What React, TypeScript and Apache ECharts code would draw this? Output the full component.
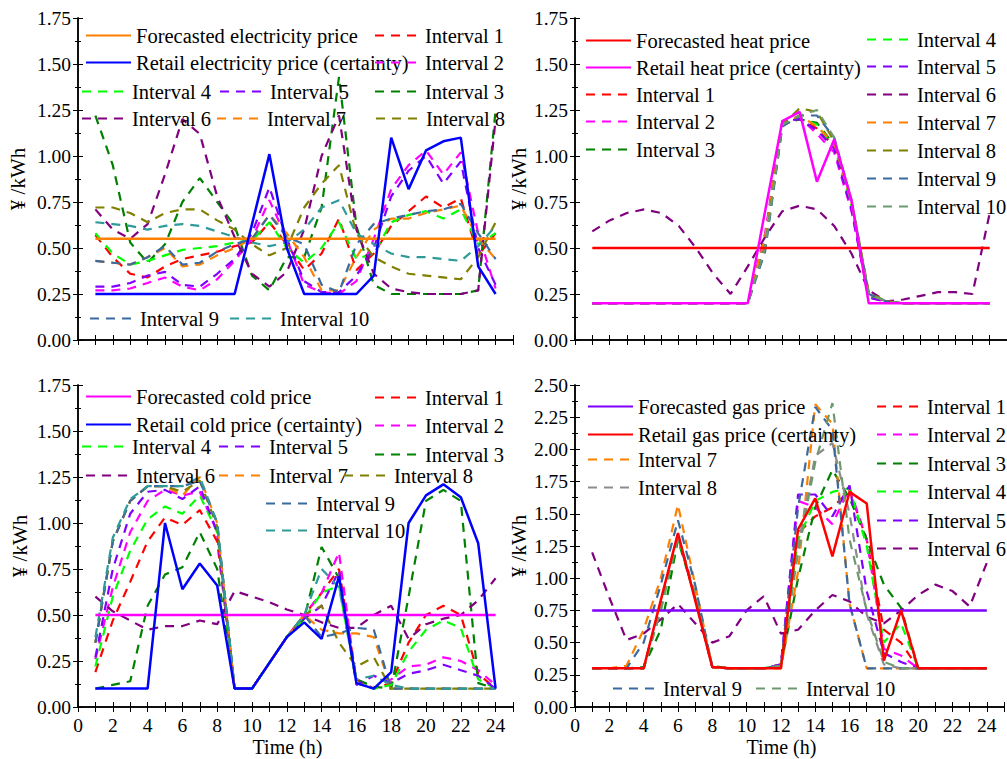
import React, { useEffect, useRef } from "react";
import * as echarts from "echarts";

const hours = Array.from({ length: 24 }, (_, i) => i + 1);
const FONT = "Liberation Serif";

// ---------- Electricity ----------
const elecForecast = [0.55,0.55,0.55,0.55,0.55,0.55,0.55,0.55,0.55,0.55,0.55,0.55,0.55,0.55,0.55,0.55,0.55,0.55,0.55,0.55,0.55,0.55,0.55,0.55];
const elecRetail = [0.25,0.25,0.25,0.25,0.25,0.25,0.25,0.25,0.25,0.63,1.01,0.5,0.25,0.25,0.25,0.25,0.35,1.10,0.82,1.03,1.08,1.10,0.40,0.25];
const elecI1 = [0.57,0.45,0.36,0.34,0.40,0.44,0.46,0.48,0.51,0.53,0.64,0.52,0.38,0.47,0.66,0.38,0.47,0.62,0.70,0.78,0.72,0.77,0.46,0.58];
const elecI2 = [0.27,0.27,0.28,0.31,0.34,0.29,0.27,0.33,0.43,0.55,0.76,0.55,0.30,0.26,0.25,0.32,0.55,0.82,0.95,1.03,0.90,1.02,0.58,0.28];
const elecI3 = [1.22,0.95,0.53,0.42,0.52,0.75,0.88,0.75,0.62,0.35,0.27,0.45,0.45,0.72,1.43,0.62,0.30,0.25,0.25,0.25,0.25,0.25,0.27,1.25];
const elecI4 = [0.58,0.47,0.41,0.43,0.46,0.49,0.50,0.51,0.53,0.54,0.64,0.50,0.42,0.50,0.64,0.44,0.47,0.64,0.68,0.70,0.66,0.71,0.52,0.58];
const elecI5 = [0.29,0.29,0.31,0.35,0.37,0.30,0.29,0.36,0.44,0.58,0.83,0.55,0.32,0.26,0.26,0.35,0.50,0.78,0.92,1.00,0.85,0.97,0.50,0.30];
const elecI6 = [0.71,0.60,0.55,0.63,0.90,1.20,1.12,0.78,0.56,0.36,0.29,0.37,0.60,1.00,1.22,0.60,0.36,0.28,0.26,0.25,0.25,0.25,0.27,1.20];
const elecI7 = [0.43,0.42,0.41,0.45,0.50,0.40,0.41,0.46,0.50,0.55,0.68,0.58,0.45,0.27,0.27,0.45,0.60,0.66,0.66,0.69,0.71,0.73,0.55,0.44];
const elecI8 = [0.72,0.72,0.69,0.64,0.69,0.71,0.71,0.65,0.60,0.52,0.46,0.50,0.72,0.85,0.95,0.58,0.45,0.40,0.36,0.35,0.34,0.33,0.45,0.64];
const elecI9 = [0.43,0.42,0.41,0.45,0.51,0.41,0.42,0.48,0.52,0.55,0.68,0.56,0.52,0.30,0.26,0.52,0.63,0.66,0.68,0.70,0.71,0.74,0.58,0.44];
const elecI10 = [0.64,0.63,0.62,0.60,0.62,0.63,0.62,0.59,0.56,0.53,0.51,0.53,0.60,0.72,0.76,0.58,0.52,0.47,0.45,0.45,0.44,0.43,0.51,0.62];

// ---------- Heat ----------
const heatForecast = [0.5,0.5,0.5,0.5,0.5,0.5,0.5,0.5,0.5,0.5,0.5,0.5,0.5,0.5,0.5,0.5,0.5,0.5,0.5,0.5,0.5,0.5,0.5,0.5];
const heatRetail = [0.2,0.2,0.2,0.2,0.2,0.2,0.2,0.2,0.2,0.2,0.70,1.19,1.24,0.86,1.09,0.76,0.2,0.2,0.2,0.2,0.2,0.2,0.2,0.2];
const heatI1 = [0.2,0.2,0.2,0.2,0.2,0.2,0.2,0.2,0.2,0.2,0.55,1.18,1.20,1.15,1.05,0.72,0.24,0.21,0.2,0.2,0.2,0.2,0.2,0.2];
const heatI2 = [0.2,0.2,0.2,0.2,0.2,0.2,0.2,0.2,0.2,0.2,0.58,1.18,1.21,1.12,1.02,0.70,0.23,0.21,0.2,0.2,0.2,0.2,0.2,0.2];
const heatI3 = [0.2,0.2,0.2,0.2,0.2,0.2,0.2,0.2,0.2,0.2,0.52,1.17,1.20,1.18,1.06,0.74,0.25,0.21,0.2,0.2,0.2,0.2,0.2,0.2];
const heatI4 = [0.2,0.2,0.2,0.2,0.2,0.2,0.2,0.2,0.2,0.2,0.54,1.18,1.21,1.17,1.05,0.73,0.24,0.21,0.2,0.2,0.2,0.2,0.2,0.2];
const heatI5 = [0.2,0.2,0.2,0.2,0.2,0.2,0.2,0.2,0.2,0.2,0.55,1.19,1.20,1.14,1.04,0.71,0.23,0.21,0.2,0.2,0.2,0.2,0.2,0.2];
const heatI6 = [0.59,0.65,0.69,0.71,0.69,0.62,0.50,0.36,0.25,0.40,0.56,0.70,0.73,0.71,0.62,0.47,0.27,0.21,0.22,0.24,0.26,0.26,0.25,0.69];
const heatI7 = [0.2,0.2,0.2,0.2,0.2,0.2,0.2,0.2,0.2,0.2,0.56,1.18,1.22,1.16,1.07,0.75,0.25,0.21,0.2,0.2,0.2,0.2,0.2,0.2];
const heatI8 = [0.2,0.2,0.2,0.2,0.2,0.2,0.2,0.2,0.2,0.2,0.50,1.17,1.26,1.24,1.08,0.76,0.26,0.21,0.2,0.2,0.2,0.2,0.2,0.2];
const heatI9 = [0.2,0.2,0.2,0.2,0.2,0.2,0.2,0.2,0.2,0.2,0.48,1.16,1.22,1.22,1.10,0.76,0.25,0.21,0.2,0.2,0.2,0.2,0.2,0.2];
const heatI10 = [0.2,0.2,0.2,0.2,0.2,0.2,0.2,0.2,0.2,0.2,0.50,1.17,1.22,1.25,1.10,0.74,0.25,0.21,0.2,0.2,0.2,0.2,0.2,0.2];

// ---------- Cold ----------
const coldForecast = [0.5,0.5,0.5,0.5,0.5,0.5,0.5,0.5,0.5,0.5,0.5,0.5,0.5,0.5,0.5,0.5,0.5,0.5,0.5,0.5,0.5,0.5,0.5,0.5];
const coldRetail = [0.1,0.1,0.1,0.1,1.0,0.64,0.78,0.66,0.1,0.1,0.24,0.38,0.46,0.37,0.71,0.13,0.1,0.19,1.0,1.15,1.21,1.14,0.89,0.1];
const coldI1 = [0.19,0.47,0.68,0.90,1.03,0.99,1.07,0.90,0.1,0.1,0.24,0.38,0.50,0.62,0.75,0.15,0.1,0.13,0.35,0.50,0.55,0.50,0.18,0.1];
const coldI2 = [0.26,0.65,0.95,1.12,1.18,1.15,1.17,0.95,0.1,0.1,0.24,0.38,0.50,0.62,0.84,0.13,0.1,0.15,0.22,0.23,0.27,0.25,0.20,0.12];
const coldI3 = [0.1,0.12,0.14,0.55,0.72,0.76,0.95,0.75,0.1,0.1,0.24,0.38,0.48,0.87,0.70,0.15,0.11,0.1,0.60,1.12,1.18,1.12,0.13,0.1];
const coldI4 = [0.22,0.60,0.85,1.02,1.09,1.05,1.15,0.95,0.1,0.1,0.24,0.38,0.48,0.62,0.66,0.13,0.1,0.12,0.30,0.42,0.47,0.43,0.15,0.1];
const coldI5 = [0.27,0.75,1.05,1.17,1.18,1.13,1.20,0.95,0.1,0.1,0.24,0.38,0.48,0.55,0.74,0.12,0.17,0.13,0.18,0.20,0.23,0.20,0.17,0.1];
const coldI6 = [0.60,0.52,0.47,0.42,0.44,0.44,0.47,0.45,0.63,0.60,0.57,0.53,0.50,0.46,0.43,0.43,0.50,0.55,0.37,0.45,0.48,0.50,0.58,0.70];
const coldI7 = [0.35,0.90,1.12,1.20,1.20,1.15,1.25,1.0,0.1,0.1,0.24,0.38,0.50,0.42,0.40,0.40,0.38,0.1,0.1,0.1,0.1,0.1,0.1,0.1];
const coldI8 = [0.35,0.90,1.12,1.20,1.20,1.17,1.23,0.98,0.1,0.1,0.24,0.38,0.50,0.55,0.35,0.22,0.27,0.1,0.1,0.1,0.1,0.1,0.1,0.1];
const coldI9 = [0.35,0.90,1.12,1.20,1.20,1.20,1.23,1.0,0.1,0.1,0.24,0.38,0.50,0.38,0.40,0.43,0.42,0.1,0.1,0.1,0.1,0.1,0.1,0.1];
const coldI10 = [0.38,0.92,1.13,1.20,1.20,1.20,1.25,1.0,0.1,0.1,0.24,0.38,0.50,0.75,0.65,0.15,0.17,0.12,0.1,0.1,0.1,0.1,0.1,0.1];

// ---------- Gas ----------
const gasForecast = [0.75,0.75,0.75,0.75,0.75,0.75,0.75,0.75,0.75,0.75,0.75,0.75,0.75,0.75,0.75,0.75,0.75,0.75,0.75,0.75,0.75,0.75,0.75,0.75];
const gasRetail = [0.3,0.3,0.3,0.3,0.83,1.35,0.83,0.31,0.3,0.3,0.3,0.3,1.38,1.62,1.17,1.67,1.58,0.36,0.75,0.3,0.3,0.3,0.3,0.3];
const gasI1 = [0.3,0.3,0.3,0.3,0.80,1.33,0.85,0.31,0.3,0.3,0.3,0.33,1.35,1.48,1.55,1.68,1.30,0.60,0.50,0.3,0.3,0.3,0.3,0.3];
const gasI2 = [0.3,0.3,0.3,0.3,0.78,1.33,0.85,0.31,0.3,0.3,0.3,0.33,1.60,1.55,1.42,1.70,1.30,0.45,0.40,0.3,0.3,0.3,0.3,0.3];
const gasI3 = [0.3,0.3,0.3,0.31,0.60,1.30,0.85,0.32,0.3,0.3,0.3,0.32,1.00,1.55,1.84,1.62,1.30,0.95,0.77,0.3,0.3,0.3,0.3,0.3];
const gasI4 = [0.3,0.3,0.3,0.3,0.75,1.32,0.85,0.31,0.3,0.3,0.3,0.33,1.30,1.60,1.67,1.70,1.25,0.50,0.65,0.3,0.3,0.3,0.3,0.3];
const gasI5 = [0.3,0.3,0.3,0.3,0.80,1.33,0.85,0.31,0.3,0.3,0.3,0.33,1.65,1.65,1.48,1.72,0.90,0.42,0.35,0.3,0.3,0.3,0.3,0.3];
const gasI6 = [1.20,0.85,0.52,0.57,0.68,0.80,0.65,0.50,0.55,0.75,0.86,0.57,0.60,0.75,0.87,0.82,0.70,0.65,0.75,0.87,0.95,0.90,0.78,1.12];
const gasI7 = [0.3,0.3,0.32,0.60,1.00,1.57,0.95,0.31,0.3,0.3,0.3,0.3,1.05,2.35,2.20,0.80,0.3,0.3,0.3,0.3,0.3,0.3,0.3,0.3];
const gasI8 = [0.3,0.3,0.3,0.3,0.80,1.33,0.88,0.31,0.3,0.3,0.3,0.32,1.25,1.95,2.05,1.50,0.72,0.33,0.3,0.3,0.3,0.3,0.3,0.3];
const gasI9 = [0.3,0.3,0.3,0.50,0.95,1.45,0.95,0.31,0.3,0.3,0.3,0.32,1.55,2.33,2.15,0.80,0.3,0.3,0.3,0.3,0.3,0.3,0.3,0.3];
const gasI10 = [0.3,0.3,0.3,0.3,0.75,1.33,0.87,0.31,0.3,0.3,0.3,0.32,1.20,1.90,2.36,1.30,0.75,0.35,0.3,0.3,0.3,0.3,0.3,0.3];

const intervalLabels = ["Interval 1","Interval 2","Interval 3","Interval 4","Interval 5","Interval 6","Interval 7","Interval 8","Interval 9","Interval 10"];
const yAxisTitle = "¥ /kWh";
const xAxisTitle = "Time (h)";

type Panel = {
  key: string;
  forecastName: string;
  retailName: string;
  forecast: number[];
  retail: number[];
  forecastColor: string;
  retailColor: string;
  intervals: number[][];
  intervalColors: string[];
  yMax: number;
  nameGap: number;
  showX: boolean;
};

const C = {
  red: "#FF0000", mag: "#FF00FF", dkg: "#008000", grn: "#00FF00", vio: "#8000FF",
  pur: "#800080", org: "#FF8000", olv: "#808000", stl: "#3A6B9E", teal: "#2E9A9A",
  gry: "#8C8C8C", ggr: "#6E9A6E", blue: "#0000FF",
};

const panels: Panel[] = [
  { key: "e", forecastName: "Forecasted electricity price", retailName: "Retail electricity price (certainty)",
    forecast: elecForecast, retail: elecRetail, forecastColor: C.org, retailColor: C.blue,
    intervals: [elecI1, elecI2, elecI3, elecI4, elecI5, elecI6, elecI7, elecI8, elecI9, elecI10],
    intervalColors: [C.red, C.mag, C.dkg, C.grn, C.vio, C.pur, C.org, C.olv, C.stl, C.teal], yMax: 1.75, nameGap: 50, showX: false },
  { key: "h", forecastName: "Forecasted heat price", retailName: "Retail heat price (certainty)",
    forecast: heatForecast, retail: heatRetail, forecastColor: C.red, retailColor: C.mag,
    intervals: [heatI1, heatI2, heatI3, heatI4, heatI5, heatI6, heatI7, heatI8, heatI9, heatI10],
    intervalColors: [C.red, C.mag, C.dkg, C.grn, C.vio, C.pur, C.org, C.olv, C.stl, C.ggr], yMax: 1.75, nameGap: 42, showX: false },
  { key: "c", forecastName: "Forecasted cold price", retailName: "Retail cold price (certainty)",
    forecast: coldForecast, retail: coldRetail, forecastColor: C.mag, retailColor: C.blue,
    intervals: [coldI1, coldI2, coldI3, coldI4, coldI5, coldI6, coldI7, coldI8, coldI9, coldI10],
    intervalColors: [C.red, C.mag, C.dkg, C.grn, C.vio, C.pur, C.org, C.olv, C.stl, C.teal], yMax: 1.75, nameGap: 48, showX: true },
  { key: "g", forecastName: "Forecasted gas price", retailName: "Retail gas price (certainty)",
    forecast: gasForecast, retail: gasRetail, forecastColor: C.vio, retailColor: C.red,
    intervals: [gasI1, gasI2, gasI3, gasI4, gasI5, gasI6, gasI7, gasI8, gasI9, gasI10],
    intervalColors: [C.red, C.mag, C.dkg, C.grn, C.vio, C.pur, C.org, C.gry, C.stl, C.ggr], yMax: 2.5, nameGap: 42, showX: true },
];

const grids = [
  { left: 78, top: 18, width: 435, height: 322 },
  { left: 575, top: 18, width: 435, height: 322 },
  { left: 78, top: 385, width: 435, height: 322 },
  { left: 575, top: 385, width: 435, height: 322 },
];

// legend placements: [panelKey, label, iconLeft, centerY]
const legendPlaces: [string, string, number, number][] = [
  ["e", "F", 85, 37], ["e", "R", 85, 64], ["e", "Interval 1", 374, 37], ["e", "Interval 2", 374, 64],
  ["e", "Interval 4", 81, 93], ["e", "Interval 5", 219, 93], ["e", "Interval 3", 374, 93],
  ["e", "Interval 6", 81, 120], ["e", "Interval 7", 216, 120], ["e", "Interval 8", 375, 120],
  ["e", "Interval 9", 89, 320], ["e", "Interval 10", 229, 320],
  ["h", "F", 585, 42], ["h", "R", 585, 69], ["h", "Interval 1", 585, 96], ["h", "Interval 2", 585, 123], ["h", "Interval 3", 585, 151],
  ["h", "Interval 4", 866, 41], ["h", "Interval 5", 866, 68], ["h", "Interval 6", 866, 96], ["h", "Interval 7", 866, 124],
  ["h", "Interval 8", 866, 152], ["h", "Interval 9", 866, 180], ["h", "Interval 10", 866, 208],
  ["c", "F", 85, 398], ["c", "R", 85, 426], ["c", "Interval 1", 374, 399], ["c", "Interval 2", 374, 427], ["c", "Interval 3", 374, 456],
  ["c", "Interval 4", 81, 448], ["c", "Interval 5", 218, 448], ["c", "Interval 6", 85, 477], ["c", "Interval 7", 218, 477],
  ["c", "Interval 8", 343, 477], ["c", "Interval 9", 265, 505], ["c", "Interval 10", 265, 532],
  ["g", "F", 587, 408], ["g", "R", 587, 436], ["g", "Interval 7", 587, 461], ["g", "Interval 8", 587, 489],
  ["g", "Interval 9", 612, 690], ["g", "Interval 10", 755, 690],
  ["g", "Interval 1", 876, 408], ["g", "Interval 2", 876, 436], ["g", "Interval 3", 876, 465],
  ["g", "Interval 4", 876, 493], ["g", "Interval 5", 876, 522], ["g", "Interval 6", 876, 550],
];

function buildOption() {
  const xAxis: any[] = [];
  const yAxis: any[] = [];
  const series: any[] = [];
  const axisLine = { show: true, lineStyle: { color: "#000", width: 1.5 } };
  panels.forEach((p, i) => {
    xAxis.push({
      type: "value", gridIndex: i, min: 0, max: 25, interval: 1, position: "bottom",
      axisLine, axisTick: { inside: true, length: 5, lineStyle: { color: "#000" } },
      splitLine: { show: false },
      axisLabel: {
        show: p.showX, margin: 8, color: "#000", fontFamily: FONT, fontSize: 19.5,
        formatter: (v: number) => (v % 2 === 0 && v <= 24 ? String(v) : ""),
      },
      name: p.showX ? xAxisTitle : "", nameLocation: "middle", nameGap: 30,
      nameTextStyle: { color: "#000", fontFamily: FONT, fontSize: 20, padding: [0, 16, 0, 0] },
    });
    xAxis.push({
      type: "value", gridIndex: i, min: 0, max: 25, interval: 1, position: "top",
      axisLine, axisTick: { inside: true, length: 5, lineStyle: { color: "#000" } },
      splitLine: { show: false }, axisLabel: { show: false },
    });
    yAxis.push({
      type: "value", gridIndex: i, min: 0, max: p.yMax, interval: 0.25, position: "left",
      axisLine, axisTick: { inside: true, length: 5, lineStyle: { color: "#000" } },
      minorTick: { show: true, splitNumber: 2, length: 3, lineStyle: { color: "#000" } },
      splitLine: { show: false },
      axisLabel: { margin: 7, color: "#000", fontFamily: FONT, fontSize: 19.5, formatter: (v: number) => v.toFixed(2) },
      name: yAxisTitle, nameLocation: "middle", nameGap: p.nameGap,
      nameTextStyle: { color: "#000", fontFamily: FONT, fontSize: 21 },
    });
    yAxis.push({
      type: "value", gridIndex: i, min: 0, max: p.yMax, interval: 0.25, position: "right",
      axisLine, axisTick: { inside: true, length: 5, lineStyle: { color: "#000" } },
      minorTick: { show: true, splitNumber: 2, length: 3, lineStyle: { color: "#000" } },
      splitLine: { show: false }, axisLabel: { show: false },
    });
    const xi = 2 * i, yi = 2 * i;
    p.intervals.forEach((arr, k) => {
      series.push({
        type: "line", name: `${p.key}|${intervalLabels[k]}`, xAxisIndex: xi, yAxisIndex: yi,
        data: hours.map((h, j) => [h, arr[j]]), symbol: "none", z: 2,
        lineStyle: { color: p.intervalColors[k], width: 2.2, type: [9, 7] },
        itemStyle: { color: p.intervalColors[k] },
      });
    });
    series.push({
      type: "line", name: `${p.key}|F`, xAxisIndex: xi, yAxisIndex: yi,
      data: hours.map((h, j) => [h, p.forecast[j]]), symbol: "none", z: 3,
      lineStyle: { color: p.forecastColor, width: 2.5 }, itemStyle: { color: p.forecastColor },
    });
    series.push({
      type: "line", name: `${p.key}|R`, xAxisIndex: xi, yAxisIndex: yi,
      data: hours.map((h, j) => [h, p.retail[j]]), symbol: "none", z: 4,
      lineStyle: { color: p.retailColor, width: 2.5 }, itemStyle: { color: p.retailColor },
    });
  });

  const panelByKey: Record<string, Panel> = {};
  panels.forEach((p) => (panelByKey[p.key] = p));
  const legend = legendPlaces.map(([k, lab, x, y]) => ({
    left: x, top: y - 12, padding: 0, itemWidth: 45, itemHeight: 14, selectedMode: false,
    itemStyle: { color: "rgba(0,0,0,0)", borderColor: "rgba(0,0,0,0)", borderWidth: 0, opacity: 0 },
    data: [`${k}|${lab}`],
    formatter: (name: string) => {
      const [pk, l] = name.split("|");
      const p = panelByKey[pk];
      if (l === "F") return p.forecastName;
      if (l === "R") return p.retailName;
      return l;
    },
    textStyle: { color: "#000", fontFamily: FONT, fontSize: 20.5 },
  }));

  return {
    animation: false,
    backgroundColor: "#fff",
    textStyle: { fontFamily: FONT },
    grid: grids,
    xAxis, yAxis, series, legend,
  };
}

export default function App() {
  const ref = useRef<HTMLDivElement>(null);
  useEffect(() => {
    if (!ref.current) return;
    const chart = echarts.init(ref.current, undefined, { renderer: "svg" });
    chart.setOption(buildOption() as any);
    return () => chart.dispose();
  }, []);
  return <div ref={ref} style={{ position: "fixed", left: 0, top: 0, width: 1007, height: 759, background: "#fff" }} />;
}
